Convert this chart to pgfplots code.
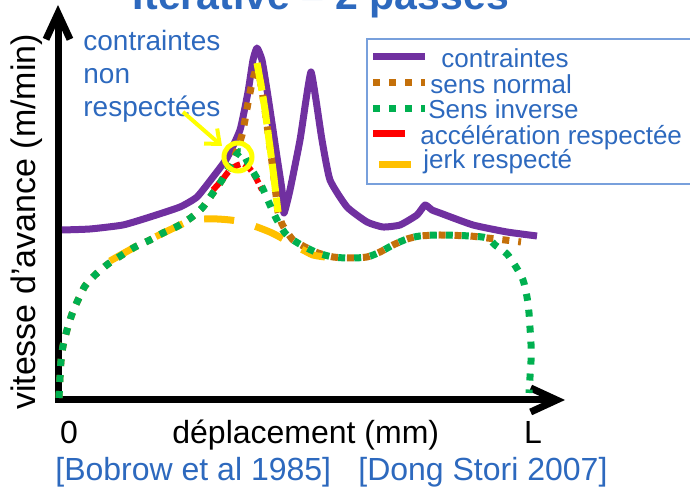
\documentclass[border=0pt]{standalone}
\usepackage{pgfplots}
\pgfplotsset{compat=1.18}
\usepackage{fontspec}
\setmainfont{Liberation Sans}
\usetikzlibrary{arrows.meta}
\definecolor{cpurple}{RGB}{112,48,160}
\definecolor{cbrown}{RGB}{196,112,10}
\definecolor{cgreen}{RGB}{0,176,80}
\definecolor{cred}{RGB}{255,0,0}
\definecolor{cgold}{RGB}{255,192,0}
\definecolor{cyellow}{RGB}{255,255,0}
\definecolor{tblue}{RGB}{45,105,190}
\definecolor{lblue}{RGB}{120,160,220}
\newcommand{\fs}[1]{\fontsize{#1}{1.2\dimexpr #1\relax}\selectfont}
\begin{document}
\begin{tikzpicture}
\begin{axis}[hide axis, scale only axis, width=345pt, height=245.5pt,
  xmin=-58, xmax=632, ymin=-91, ymax=400, clip=false]
% axes
\draw[line width=3.5pt, line join=miter,
  {Straight Barb[length=13pt,width=12pt]}-{Straight Barb[length=13pt,width=12pt]}]
  (axis cs:0,395) -- (axis cs:0,0) -- (axis cs:507,0);
% contraintes
\addplot[cpurple, line width=3.5pt, line join=round, smooth, tension=0.3] coordinates {
(4,170) (32,171) (65,175) (92,183) (122,193) (139,203) (155,223) (169,242)
(182,270) (190,308) (195,340) (199,352) (204,340) (209,310) (214,277)
(219,243) (224,210) (226,187) (232,210) (242,260) (248,300) (253,328)
(258,300) (264,260) (272,220) (289,193) (309,178) (325,173) (342,175)
(359,185) (367,195) (374,190) (382,187) (415,175) (449,168) (479,164)};
% sens normal
\addplot[cbrown, line width=3.5pt, dash pattern=on 3.5pt off 4.5pt, smooth, tension=0.3] coordinates {
(1,2) (2,23) (3,39) (5,54) (9,70) (14,86) (20,100) (27,114) (37,125) (50,136)
(64,145) (77,153) (92,160) (105,167) (120,174) (134,183) (145,193) (155,207)
(164,220) (174,237) (179,250) (184,265) (187,280) (190,297) (194,317) (197,328)
(199,337) (203,315) (207,290) (211,260) (215,230) (218,205) (220,188)
(224,176) (229,168) (235,160) (247,153) (260,147) (275,143) (292,142) (309,143)
(322,148) (335,155) (349,161) (362,164) (382,165) (412,164) (429,162) (447,160) (463,158)};
% yellow dashed (second pass)
\addplot[cyellow, line width=3.5pt, dash pattern=on 14pt off 3pt, smooth, tension=0.3] coordinates {
(199,337) (203,315) (207,290) (211,260) (215,230) (218,205) (220,188)};
% jerk respecte
\addplot[cgold, line width=3.5pt, dash pattern=on 15pt off 11pt, smooth] coordinates {
(52,139) (77,153) (95,162) (120,174) (134,180) (147,181) (159,181) (172,180)
(184,178) (199,173) (214,167) (227,160) (235,155) (245,150) (255,145) (267,143)};
% acceleration respectee
\addplot[cred, line width=3pt, dash pattern=on 5pt off 2pt, smooth] coordinates {
(155,210) (164,220) (172,230) (180,235) (186,236) (192,231) (198,222) (204,210)};
% sens inverse
\addplot[cgreen, line width=3.5pt, dash pattern=on 3.5pt off 4.5pt, smooth, tension=0.5] coordinates {
(1,2) (2,23) (3,39) (5,54) (9,70) (14,86) (20,100) (27,114) (37,125) (50,136)
(64,145) (77,153) (92,160) (105,167) (120,174) (134,183) (145,193) (155,207)
(164,220) (172,234) (179,246) (184,248) (190,237) (197,225) (204,213) (212,195)
(219,180) (227,167) (235,160) (247,153) (260,147) (275,143) (292,142) (309,143)
(322,148) (335,155) (349,161) (362,164) (382,165) (412,164) (429,162) (437,155)
(449,146) (458,133) (465,120) (469,103) (471,87) (472,72) (473,56) (473,39) (472,23) (471,7)};
\end{axis}
\begin{scope}[shift={(current axis.north west)}, x=0.5pt, y=-0.5pt]
% title (cut at the top)
\node[anchor=base, text=tblue, font=\bfseries\fs{20.5pt}, inner sep=0pt] at (321,10) {Itérative – 2 passes};
% annotation
\node[anchor=base west, text=tblue, font=\fs{14pt}, inner sep=0pt] at (83,51) {contraintes};
\node[anchor=base west, text=tblue, font=\fs{14pt}, inner sep=0pt] at (83,84) {non};
\node[anchor=base west, text=tblue, font=\fs{14pt}, inner sep=0pt] at (83,117) {respectées};
\draw[cyellow, line width=2pt, -{Straight Barb[length=6pt,width=10pt]}] (183,112) -- (222,146);
\draw[cyellow, line width=2.5pt] (238,157) circle[radius=7pt];
% legend
\draw[lblue, line width=0.8pt] (700,39) -- (367,39) -- (367,184) -- (700,184);
\draw[cpurple, line width=3.5pt] (373,57) -- (425,57);
\draw[cbrown, line width=3.5pt, dash pattern=on 3.5pt off 4.5pt] (373,83) -- (425,83);
\draw[cgreen, line width=3.5pt, dash pattern=on 3.5pt off 4.5pt] (373,109) -- (425,109);
\draw[cred, line width=3.5pt] (373,134) -- (405,134);
\draw[cgold, line width=3.5pt] (379,165) -- (411,165);
\node[anchor=base west, text=tblue, font=\fs{13pt}, inner sep=0pt] at (441,68) {contraintes};
\node[anchor=base west, text=tblue, font=\fs{13pt}, inner sep=0pt] at (430,94) {sens normal};
\node[anchor=base west, text=tblue, font=\fs{13pt}, inner sep=0pt] at (428,119) {Sens inverse};
\node[anchor=base west, text=tblue, font=\fs{13pt}, inner sep=0pt] at (420,145) {accélération respectée};
\node[anchor=base west, text=tblue, font=\fs{13pt}, inner sep=0pt] at (423,169) {jerk respecté};
% axis labels
\node[rotate=90, anchor=center, font=\fs{17pt}, inner sep=0pt] at (27,222) {vitesse d’avance (m/min)};
\node[anchor=base, font=\fs{16pt}, inner sep=0pt] at (69,444) {0};
\node[anchor=base, font=\fs{16pt}, inner sep=0pt] at (533,444) {L};
\node[anchor=base west, font=\fs{16pt}, inner sep=0pt] at (172,444) {déplacement (mm)};
\node[anchor=base west, text=tblue, font=\fs{16pt}, inner sep=0pt] at (55,481) {[Bobrow et al 1985]};
\node[anchor=base west, text=tblue, font=\fs{16pt}, inner sep=0pt] at (358,481) {[Dong Stori 2007]};
\end{scope}
\pgfresetboundingbox
\path[use as bounding box] (current axis.south west) rectangle (current axis.north east);
\end{tikzpicture}
\end{document}
